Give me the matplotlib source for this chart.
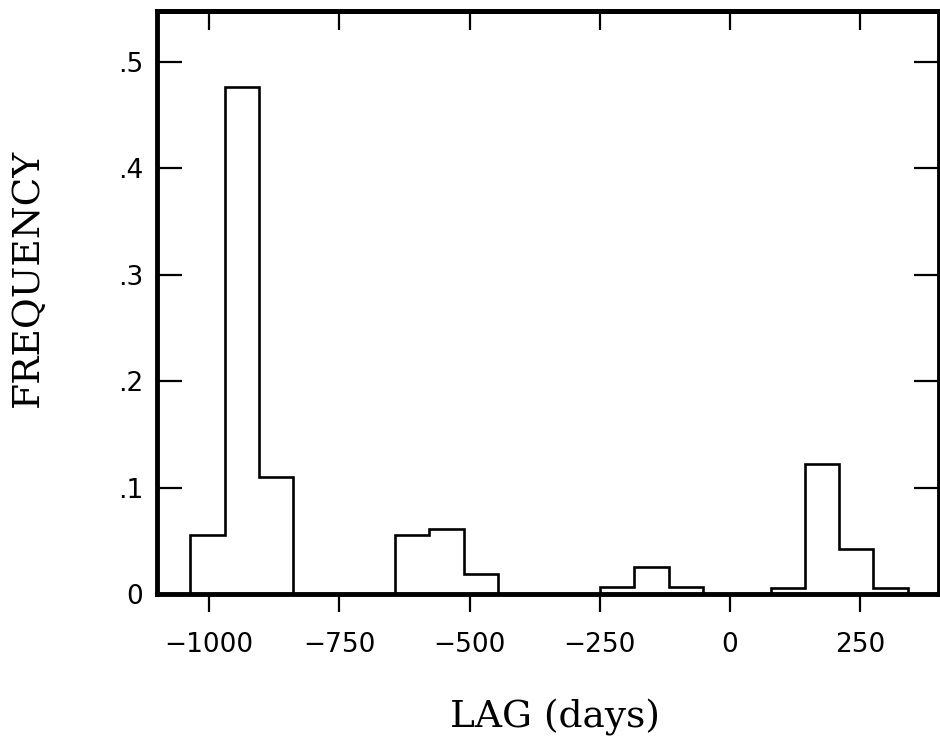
import matplotlib
matplotlib.use("Agg")
import matplotlib.pyplot as plt

# histograma de lag (dias)
bordas = [-1036, -970, -905, -839, -774, -708, -643, -577, -511, -446, -380,
          -315, -249, -184, -118, -52, 13, 79, 144, 210, 275, 341]
frequencia = [0.055, 0.477, 0.110, 0, 0, 0, 0.055, 0.061, 0.019, 0, 0,
              0, 0.007, 0.025, 0.007, 0, 0, 0.006, 0.122, 0.042, 0.006]

xticks = [-1000, -750, -500, -250, 0, 250]
yticks = [0, 0.1, 0.2, 0.3, 0.4, 0.5]
ylabels = ['0', '.1', '.2', '.3', '.4', '.5']

fig = plt.figure(figsize=(9.4, 7.44), dpi=100)
ax = fig.add_axes([157/940, 1-594/744, (939-157)/940, (594-11)/744])

ax.stairs(frequencia, bordas, color='black', linewidth=1.9, baseline=0)

ax.set_xlim(-1100, 401)
ax.set_ylim(0, 0.548)

for s in ax.spines.values():
    s.set_linewidth(3.5)
    s.set_zorder(5)

ax.set_xticks(xticks)
ax.set_xticklabels(['\u22121000', '\u2212750', '\u2212500', '\u2212250', '0', '250'])
ax.set_yticks(yticks)
ax.set_yticklabels(ylabels)

ax.tick_params(axis='x', direction='out', length=13, width=1.6, pad=14,
               labelsize=19, top=False)
ax.tick_params(axis='y', direction='in', length=18, width=1.6, pad=10,
               labelsize=19, right=True)

# ticks de cima apontando para dentro
topo = ax.secondary_xaxis('top')
topo.set_xticks(xticks)
topo.tick_params(direction='in', length=14, width=1.6, labeltop=False)
topo.spines['top'].set_linewidth(3.5)

fig.text(555/940, 1-728/744, 'LAG (days)', family='DejaVu Serif', fontsize=27,
         ha='center', va='baseline')
fig.text(27.5/940, 1-278/744, 'FREQUENCY', family='DejaVu Serif', fontsize=27,
         ha='center', va='center', rotation=90)

fig.savefig('out.png', dpi=100)
